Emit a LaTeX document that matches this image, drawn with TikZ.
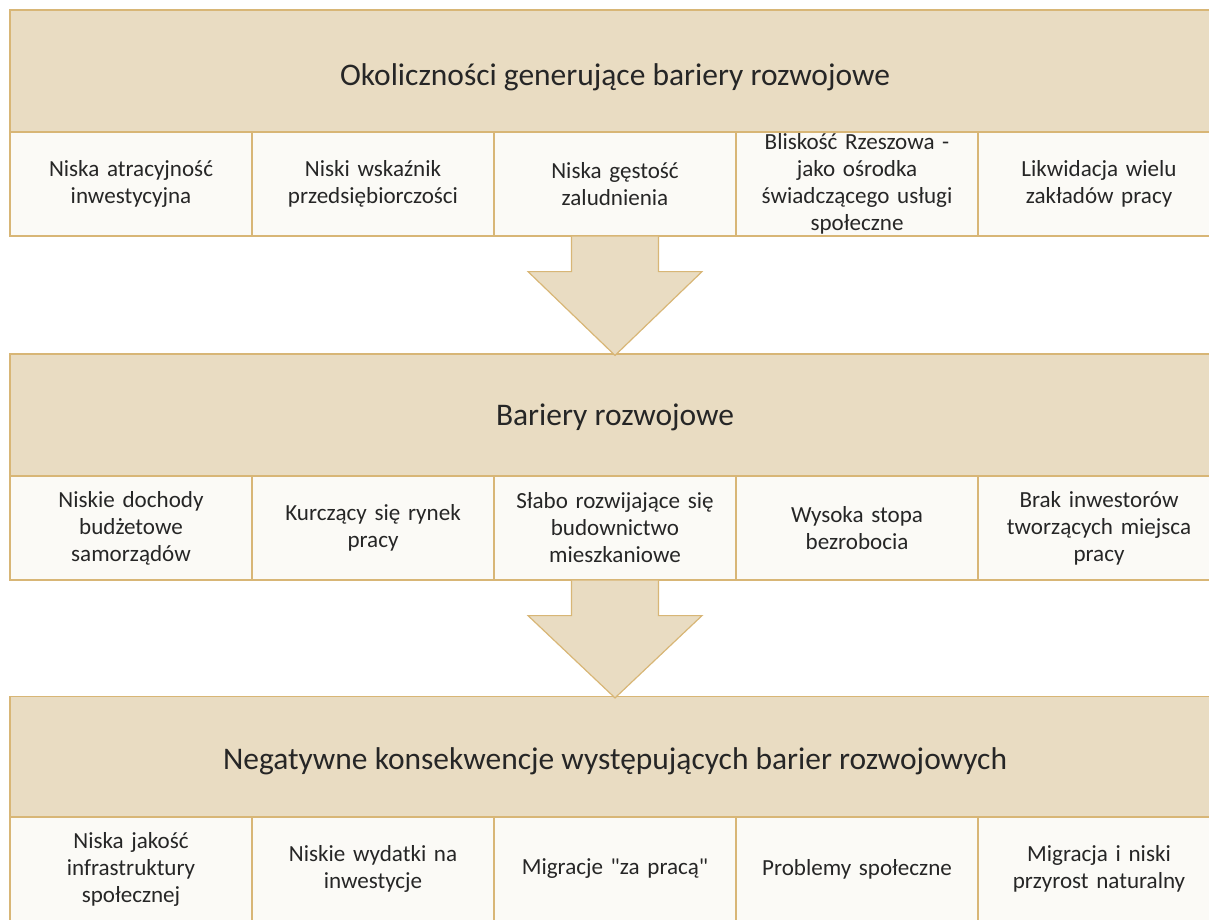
\documentclass[tikz,border=0pt]{standalone}
\usepackage{fontspec}
\setmainfont{Carlito}
\usetikzlibrary{calc}
\definecolor{bandfill}{HTML}{E9DCC2}
\definecolor{edge}{HTML}{D8B676}
\definecolor{cellfill}{HTML}{FBFAF6}
\definecolor{ink}{HTML}{262626}
\begin{document}
\begin{tikzpicture}[x=0.75pt,y=-0.75pt]
	% sizes (1 unit = 1 px of the page)
	\def\cellw{181.5pt}
	\def\cellh{78pt}
	\def\bandw{907.5pt}
	\def\bandh{91.5pt}
	% node style definition
	\tikzstyle{band} = [draw=edge, line width=0.9pt, fill=bandfill, rectangle, minimum height=\bandh, minimum width=\bandw, inner sep=0pt, text=ink, text height=22pt, text depth=6pt, font=\fontsize{23.6}{28}\selectfont];
	\tikzstyle{cell} = [draw=edge, line width=0.9pt, fill=cellfill, rectangle, minimum height=\cellh, minimum width=\cellw, inner sep=0pt, text width=176pt, align=center, text=ink, font=\fontsize{17.3}{20.25}\selectfont];
	\tikzstyle{blockarrow} = [draw=edge, line width=0.9pt, fill=bandfill, line join=miter];
	\useasboundingbox (0,0) rectangle (1209,920);
	% first level
	\node[band, text height=28pt] (band1) at (615,71) { Okoliczności generujące bariery rozwojowe };
	\foreach \txt [count=\i from 0] in {Niska atracyjność\\inwestycyjna, Niski wskaźnik\\przedsiębiorczości, Niska gęstość\\zaludnienia, Bliskość Rzeszowa -\\jako ośrodka\\świadczącego usługi\\społeczne, Likwidacja wielu\\zakładów pracy} {
		\node[cell] (c1\i) at (131+242*\i,184) { \txt };
	}
	% second level
	\node[band] (band2) at (615,415) { Bariery rozwojowe };
	\foreach \txt [count=\i from 0] in {Niskie dochody\\budżetowe\\samorządów, Kurczący się rynek\\pracy, Słabo rozwijające się\\budownictwo\\mieszkaniowe, Wysoka stopa\\bezrobocia, Brak inwestorów\\tworzących miejsca\\pracy} {
		\node[cell] (c2\i) at (131+242*\i,528) { \txt };
	}
	% third level
	\node[band, text height=24.5pt] (band3) at (615,757.5) { Negatywne konsekwencje występujących barier rozwojowych };
	\foreach \txt [count=\i from 0] in {Niska jakość\\infrastruktury\\społecznej, Niskie wydatki na\\inwestycje, Migracje \textquotedbl za pracą\textquotedbl, Problemy społeczne, Migracja i niski\\przyrost naturalny} {
		\node[cell] (c3\i) at (131+242*\i,869) { \txt };
	}
	% arrows between the levels
	\draw[blockarrow] ([xshift=-32.6pt]c12.south) -- ++(0,35) -- ++(-43.5,0) -- ([yshift=-1.5pt]band2.north) -- ($(c12.south)+(87,35)$) -- ++(-43.5,0) -- ([xshift=32.6pt]c12.south);
	\draw[blockarrow] ([xshift=-32.6pt]c22.south) -- ++(0,35) -- ++(-43.5,0) -- ([yshift=-1.5pt]band3.north) -- ($(c22.south)+(87,35)$) -- ++(-43.5,0) -- ([xshift=32.6pt]c22.south);
\end{tikzpicture}
\end{document}
